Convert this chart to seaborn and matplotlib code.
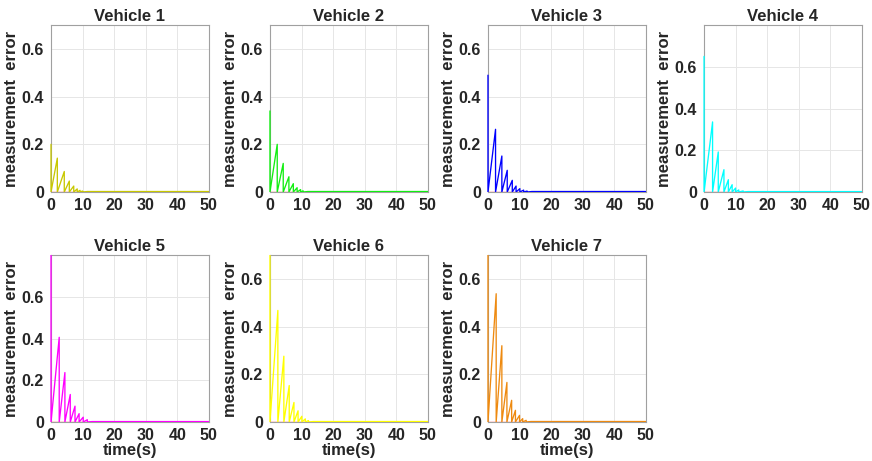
import numpy as np
import pandas as pd
import matplotlib
matplotlib.use("Agg")
import matplotlib.pyplot as plt
from matplotlib.transforms import Bbox, TransformedBbox
import seaborn as sns

# Event-triggered measurement error per vehicle:
# value at t=0, then times where the error peaks and is reset, with peak values
vehicles = ['Vehicle 1', 'Vehicle 2', 'Vehicle 3', 'Vehicle 4',
            'Vehicle 5', 'Vehicle 6', 'Vehicle 7']
colors = ['#c8c800', '#11ee11', '#0000ff', '#00ffff',
          '#ff00ff', '#ffff00', '#ee8a10']
ytops = [0.7, 0.7, 0.7, 0.8, 0.8, 0.7, 0.7]

initial_error = [0.20, 0.34, 0.49, 0.65, 0.85, 0.75, 0.75]

peak_times = [
    [2.0, 4.2, 5.8, 7.2, 8.3, 9.2, 10.0],
    [2.3, 4.2, 6.0, 7.4, 8.6, 9.7, 10.5],
    [2.4, 4.4, 6.1, 7.7, 8.9, 10.1, 11.3, 12.4],
    [2.7, 4.5, 6.3, 7.7, 8.9, 10.0, 11.0, 12.4],
    [2.6, 4.4, 6.1, 7.6, 8.9, 10.2, 11.5],
    [2.5, 4.4, 6.1, 7.6, 8.9, 10.1, 11.2, 12.2],
    [2.6, 4.4, 6.0, 7.5, 8.7, 10.0, 11.0, 12.1],
]
peak_values = [
    [0.142, 0.086, 0.046, 0.025, 0.013, 0.007, 0.004],
    [0.200, 0.120, 0.064, 0.035, 0.018, 0.010, 0.005],
    [0.263, 0.151, 0.091, 0.049, 0.025, 0.014, 0.008, 0.004],
    [0.336, 0.192, 0.107, 0.059, 0.035, 0.019, 0.010, 0.005],
    [0.406, 0.237, 0.132, 0.076, 0.040, 0.023, 0.011],
    [0.468, 0.276, 0.153, 0.082, 0.047, 0.024, 0.013, 0.006],
    [0.538, 0.320, 0.166, 0.091, 0.049, 0.028, 0.014, 0.007],
]
tail_level = 0.002
t_end = 50

sns.set_style("whitegrid")
plt.rcParams['font.family'] = ['Liberation Sans', 'DejaVu Sans']
plt.rcParams['font.weight'] = 'bold'

fig = plt.figure(figsize=(8.72, 4.61), dpi=100)
lefts = [0.0585, 0.3096, 0.5596, 0.8074]
bottoms = [0.5835, 0.0846]
w, h = 0.181, 0.362

for i, name in enumerate(vehicles):
    row, col = divmod(i, 4)
    ax = fig.add_axes([lefts[col], bottoms[row], w, h])

    # build sawtooth vertices: rise to a peak, then drop to zero
    xs = [0, 0]
    ys = [initial_error[i], 0]
    for t, p in zip(peak_times[i], peak_values[i]):
        xs += [t, t]
        ys += [p, 0]
    xs += [peak_times[i][-1] + 1.5, t_end]
    ys += [tail_level, tail_level]
    df = pd.DataFrame({'t': xs, 'e': ys})

    sns.lineplot(x=[0, t_end], y=[0, 0], color='#ff5555', lw=1.0, ax=ax)
    sns.lineplot(data=df, x='t', y='e', sort=False, estimator=None,
                 color=colors[i], lw=0.95, ax=ax)
    # let the t=0 spike show over the left spine
    clip = TransformedBbox(Bbox([[-0.02, 0], [1.0, 1.0]]), ax.transAxes)
    for ln in ax.lines:
        ln.set_clip_box(clip)
        ln.set_zorder(3)

    ax.set_xlim(0, 50)
    ax.set_ylim(0, ytops[i])
    ax.set_xticks([0, 10, 20, 30, 40, 50])
    ax.set_yticks([0, 0.2, 0.4, 0.6])
    ax.set_yticklabels(['0', '0.2', '0.4', '0.6'])
    ax.tick_params(labelsize=11.5, length=3, direction='in', colors='#262626')
    ax.tick_params(axis='x', pad=4)
    ax.tick_params(axis='y', pad=5)
    for lab in ax.get_xticklabels() + ax.get_yticklabels():
        lab.set_fontweight('bold')
    ax.grid(True, color='#e6e6e6', lw=0.7)
    for s in ax.spines.values():
        s.set_visible(True)
        s.set_color('#a0a0a0')
        s.set_linewidth(0.8)
    ax.set_title(name, fontsize=12, fontweight='bold', pad=3)
    ax.set_ylabel('measurement  error', fontsize=12, fontweight='bold',
                  labelpad=2)
    if row == 1:
        ax.set_xlabel('time(s)', fontsize=12, fontweight='bold', labelpad=0)
    else:
        ax.set_xlabel('')

fig.savefig('out.png', dpi=100)
